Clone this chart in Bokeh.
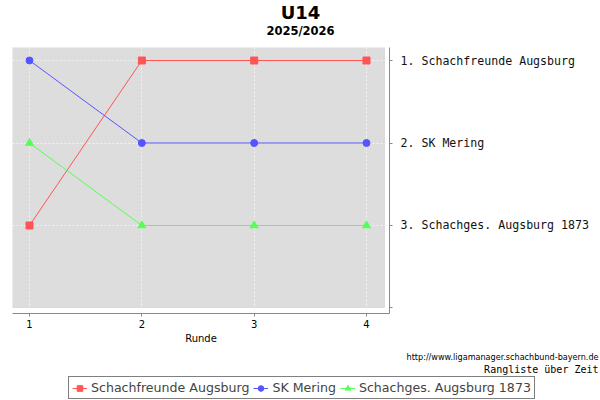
from bokeh.plotting import figure
from bokeh.layouts import column, row
from bokeh.models import (Range1d, FixedTicker, BoxAnnotation, Label, Legend, LegendItem)
from bokeh.embed import file_html
from bokeh.resources import INLINE

# ---- data ----
rounds = [1, 2, 3, 4]
teams = ["Schachfreunde Augsburg", "SK Mering", "Schachges. Augsburg 1873"]
rank_sfa = [3, 1, 1, 1]
rank_skm = [1, 2, 2, 2]
rank_sga = [2, 3, 3, 3]
rank_ticks = [1, 2, 3, 4]
rank_labels = ["1. Schachfreunde Augsburg", "2. SK Mering", "3. Schachges. Augsburg 1873", ""]
title_text = "U14"
subtitle_text = "2025/2026"
x_label = "Runde"
url_text = "http://www.ligamanager.schachbund-bayern.de"
foot_text = "Rangliste über Zeit"

colors = ["#ff5555", "#5555ff", "#55ff55"]
markers = ["square", "circle", "triangle"]
series = [rank_sfa, rank_skm, rank_sga]

W = 600
TOP_H, MAIN_H, BOT_H = 47, 300, 53


def blank(h):
    f = figure(width=W, height=h, output_backend="svg", toolbar_location=None,
               x_axis_type=None, y_axis_type=None,
               x_range=Range1d(0, 1), y_range=Range1d(0, 1),
               min_border=0, min_border_left=0, min_border_right=0,
               min_border_top=0, min_border_bottom=0)
    f.outline_line_color = None
    f.grid.visible = False
    return f


def lab(f, h, text, cx, cy, size, font="DejaVu Sans", style="normal", align="center"):
    f.add_layout(Label(x=cx, y=h - cy, x_units="screen", y_units="screen",
                       text=text, text_font=font, text_font_size=size,
                       text_font_style=style, text_align=align,
                       text_baseline="middle", text_color="black"))


# ---- top: titles ----
top = blank(TOP_H)
lab(top, TOP_H, title_text, 300, 12, "18px", style="bold")
lab(top, TOP_H, subtitle_text, 300, 30, "11.5px", style="bold")

# ---- main chart ----
p = figure(width=W, height=MAIN_H, output_backend="svg", toolbar_location=None,
           x_range=Range1d(0.8487, 4.2048), y_range=Range1d(4.0667, 0.8424),
           y_axis_location="right",
           min_border_left=12, min_border_right=211, min_border_top=0, min_border_bottom=34)
p.outline_line_color = None
p.background_fill_color = "white"
p.border_fill_color = "white"

box = BoxAnnotation(left=None, top=None, right=4.1602, bottom=3.9939,
                    fill_color="#dddddd", fill_alpha=1.0,
                    line_color="#b0b0b0", line_width=1, level="image")
p.add_layout(box)

for g in (p.xgrid[0], p.ygrid[0]):
    g.grid_line_color = "#f4f4f4"
    g.grid_line_dash = "2 2"
    g.grid_line_width = 1
p.xgrid[0].ticker = FixedTicker(ticks=rounds)
p.ygrid[0].ticker = FixedTicker(ticks=rank_ticks[:-1])

xa = p.xaxis[0]
xa.ticker = FixedTicker(ticks=rounds)
xa.axis_label = x_label
xa.axis_label_text_font = "DejaVu Sans"
xa.axis_label_text_font_size = "10px"
xa.axis_label_text_font_style = "normal"
xa.axis_label_text_color = "black"
xa.axis_label_standoff = 2
xa.major_label_text_font = "DejaVu Sans"
xa.major_label_text_font_size = "10px"
xa.major_label_text_color = "black"
xa.major_label_standoff = 3
xa.axis_line_color = "#888888"
xa.major_tick_line_color = "#888888"
xa.major_tick_in = 0
xa.major_tick_out = 3
xa.minor_tick_line_color = None

ya = p.yaxis[0]
ya.ticker = FixedTicker(ticks=rank_ticks)
ya.major_label_overrides = {t: l for t, l in zip(rank_ticks, rank_labels)}
ya.major_label_text_font = "DejaVu Sans Mono"
ya.major_label_text_font_size = "11.6px"
ya.major_label_text_color = "#111111"
ya.major_label_standoff = 8
ya.axis_line_color = "#888888"
ya.major_tick_line_color = "#888888"
ya.major_tick_in = 0
ya.major_tick_out = 3
ya.minor_tick_line_color = None

for name, ys, c, m in zip(teams, series, colors, markers):
    p.line(rounds, ys, line_color=c, line_width=1)
    p.scatter(rounds, ys, marker=m, size=7 if m != "triangle" else 8,
              fill_color=c, line_color=c)

# ---- bottom: footer texts and legend ----
bot = blank(BOT_H)
lab(bot, BOT_H, url_text, 598, 9, "8.1px", align="right")
lab(bot, BOT_H, foot_text, 598, 22, "10px", font="DejaVu Sans Mono", align="right")

items = []
for name, ys, c, m in zip(teams, series, colors, markers):
    r1 = bot.line(rounds, ys, line_color=c, line_width=1, visible=False)
    r2 = bot.scatter(rounds, ys, marker=m, size=7 if m != "triangle" else 8,
                     fill_color=c, line_color=c, visible=False)
    items.append(LegendItem(label=name, renderers=[r1, r2]))

legend = Legend(items=items, orientation="horizontal", location=(68, 1),
                label_text_font="DejaVu Sans", label_text_font_size="12.6px",
                glyph_width=15, glyph_height=14, label_standoff=4, spacing=4,
                padding=3, margin=0, border_line_color="black", border_line_width=1,
                background_fill_alpha=1.0, label_height=14,
                inactive_fill_alpha=0.0)
bot.add_layout(legend, "center")

layout = column(row(top), row(p), row(bot), spacing=0)
open("out.html", "w").write(file_html(layout, INLINE))
